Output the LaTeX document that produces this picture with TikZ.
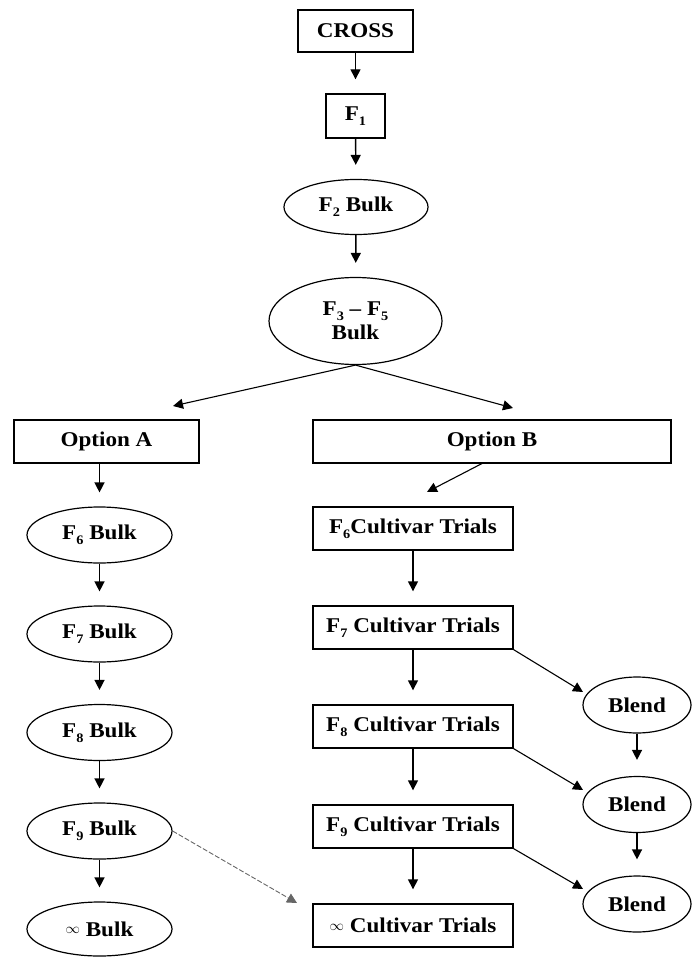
\documentclass[tikz,border=0pt]{standalone}
\usepackage{fontspec}
\setmainfont[FakeStretch=1.1]{Liberation Serif}
\usetikzlibrary{shapes.geometric,arrows.meta}
\newcommand\sbs[1]{\raisebox{-0.22em}{\fontsize{13}{13}\selectfont #1}}
\newcommand\infsym{\raisebox{0.12em}{\fontsize{14}{14}\selectfont$\infty$}}
\begin{document}
\begin{tikzpicture}[x=1pt,y=-1pt,
 base/.style={draw, font=\fontsize{21}{24}\selectfont\bfseries, inner sep=0pt},
 rbox/.style={base, rectangle, line width=1.4pt},
 ebox/.style={base, ellipse, line width=1.2pt},
 arr/.style={-{Triangle[length=10pt,width=10pt]}, line width=1.4pt, shorten >=14pt},
 barr/.style={arr, shorten >=16pt},
 darr/.style={-{Triangle[length=10pt,width=10pt]}, line width=1.1pt},
 garr/.style={-{Triangle[length=10pt,width=10pt]}, line width=0.9pt, black!60, dash pattern=on 5pt off 2pt}
]
\useasboundingbox (0,0) rectangle (693,957);

% top chain
\node[rbox, minimum width=115pt, minimum height=42pt] (cross) at (355.5,31) {CROSS};
\node[rbox, minimum width=59pt, minimum height=44pt] (f1) at (355.5,116) {F\sbs{1}};
\node[ebox, minimum width=144pt, minimum height=55pt] (f2) at (356,207) {F\sbs{2} Bulk};
\node[ebox, minimum width=173pt, minimum height=87pt, align=center] (f35) at (355.5,321) {F\sbs{3} -- F\sbs{5}\\Bulk};

% options
\node[rbox, minimum width=185pt, minimum height=43pt] (optA) at (106.5,441.5) {Option A};
\node[rbox, minimum width=358pt, minimum height=43pt] (optB) at (492,441.5) {Option B};

% option A column
\node[ebox, minimum width=145pt, minimum height=56pt] (a6) at (99.5,535) {F\sbs{6} Bulk};
\node[ebox, minimum width=145pt, minimum height=56pt] (a7) at (99.5,634) {F\sbs{7} Bulk};
\node[ebox, minimum width=145pt, minimum height=56pt] (a8) at (99.5,732.5) {F\sbs{8} Bulk};
\node[ebox, minimum width=145pt, minimum height=56pt] (a9) at (99.5,831) {F\sbs{9} Bulk};
\node[ebox, minimum width=145pt, minimum height=54pt] (ainf) at (99.5,929) {\infsym{} Bulk};

% option B column
\node[rbox, minimum width=200pt, minimum height=43pt] (b6) at (413,528.5) {F\sbs{6}Cultivar Trials};
\node[rbox, minimum width=200pt, minimum height=43pt] (b7) at (413,627.5) {F\sbs{7} Cultivar Trials};
\node[rbox, minimum width=200pt, minimum height=43pt] (b8) at (413,726.5) {F\sbs{8} Cultivar Trials};
\node[rbox, minimum width=200pt, minimum height=43pt] (b9) at (413,826.5) {F\sbs{9} Cultivar Trials};
\node[rbox, minimum width=200pt, minimum height=43pt] (binf) at (413,925.5) {\infsym{} Cultivar Trials};

% blends
\node[ebox, minimum width=108pt, minimum height=56pt] (bl1) at (637,705) {Blend};
\node[ebox, minimum width=108pt, minimum height=56pt] (bl2) at (637,804.5) {Blend};
\node[ebox, minimum width=108pt, minimum height=56pt] (bl3) at (637,904) {Blend};

% free ends
\coordinate (tA) at (173,406);
\coordinate (tB) at (513,408);
\coordinate (sB) at (483,463);
\coordinate (tB6) at (427,492);
\coordinate (t1) at (583,692);
\coordinate (t2) at (583,790);
\coordinate (t3) at (583,889);
\coordinate (tC) at (297,903);

% connectors
\draw[arr] (cross) -- (f1);
\draw[arr] (f1) -- (f2);
\draw[arr] (f2) -- (f35);
\draw[darr] (f35.south) -- (tA);
\draw[darr] (f35.south) -- (tB);

\draw[arr] (optA.south -| a6.north) -- (a6.north);
\draw[arr] (a6) -- (a7);
\draw[arr] (a7) -- (a8);
\draw[arr] (a8) -- (a9);
\draw[arr] (a9) -- (ainf);

\draw[darr] (sB) -- (tB6);
\draw[arr] (b6) -- (b7);
\draw[arr] (b7) -- (b8);
\draw[arr] (b8) -- (b9);
\draw[arr] (b9) -- (binf);

\draw[darr] (b7.south east) -- (t1);
\draw[darr] (b8.south east) -- (t2);
\draw[darr] (b9.south east) -- (t3);
\draw[barr] (bl1) -- (bl2);
\draw[barr] (bl2) -- (bl3);

\draw[garr] (a9.east) -- (tC);
\end{tikzpicture}
\end{document}
